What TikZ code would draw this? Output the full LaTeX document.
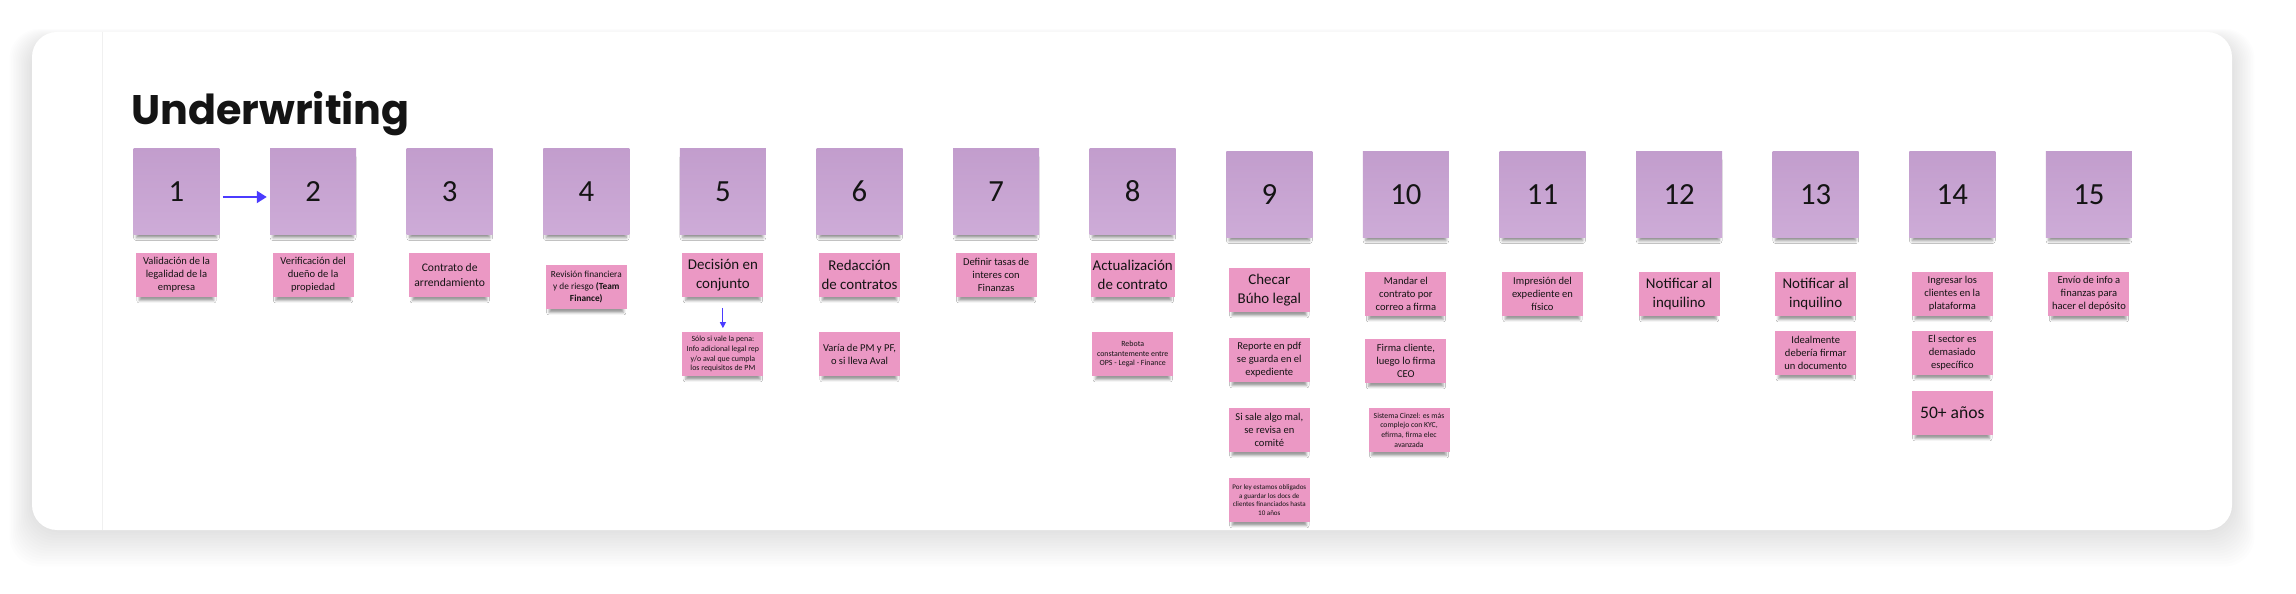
\documentclass[tikz,border=0pt]{standalone}
\usepackage{fontspec}
\setmainfont{Carlito}
\newfontfamily\titlefont{Poppins}
\usetikzlibrary{arrows.meta,shadows.blur}

\definecolor{stickyviolet}{HTML}{C8A2D3}
\definecolor{stickypink}{HTML}{EB98C4}
\definecolor{linkblue}{HTML}{4B3BFF}
\definecolor{inktext}{HTML}{141414}
\definecolor{boardshade}{HTML}{5A6280}

\newcommand{\bignote}{\fontsize{8.5}{11}\selectfont}
\newcommand{\midnote}{\fontsize{6.6}{8.2}\selectfont}
\newcommand{\smallnote}{\fontsize{6}{7.4}\selectfont}
\newcommand{\tinynote}{\fontsize{4.5}{5.6}\selectfont}

\begin{document}
\begin{tikzpicture}[x=0.02cm, y=-0.02cm,
  stepbox/.style={top color=stickyviolet!97!black, bottom color=stickyviolet!90!white, minimum width=1.72cm, minimum height=1.74cm, inner sep=0pt,
    text=inktext, font=\fontsize{17.5}{20}\selectfont,
    blur shadow={shadow xshift=0pt, shadow yshift=-3.5pt, shadow scale=0.93, shadow blur radius=1.8pt, shadow opacity=45}},
  note/.style={fill=stickypink, minimum width=1.62cm, minimum height=0.9cm, inner sep=1pt,
    align=center, text=inktext, font=\smallnote,
    blur shadow={shadow xshift=0pt, shadow yshift=-3pt, shadow scale=0.92, shadow blur radius=1.5pt, shadow opacity=40}},
  link/.style={draw=linkblue, line width=1.1pt, -{Triangle[length=0.2cm, width=0.24cm]}}]

\useasboundingbox (0,0) rectangle (2296,594);
\fill[white] (0,0) rectangle (2296,594);

% board and its soft shadow
\foreach \d in {1,...,14}
  \fill[boardshade, opacity=0.011, rounded corners=0.6cm]
    ({32-\d*1.6},{40-\d*0.8}) rectangle ({2232+\d*1.6},{530+\d*2.6});
\fill[white, rounded corners=0.5cm] (32,32) rectangle (2232,530);
\draw[black!6] (102,32) -- (102,530);

\node[anchor=base west, inner sep=0pt, text=inktext,
  font=\titlefont\bfseries\fontsize{23.5}{28}\selectfont] (title) at (131,125) {Underwriting};

% numbered steps
\foreach \i in {1,...,8}
  \node[stepbox] (\i) at ({176.5+(\i-1)*136.6},191.5) {\i};
\foreach \i in {9,...,15}
  \node[stepbox] (\i) at ({176.5+(\i-1)*136.6},194.5) {\i};

% first row of notes
\node[note] (n1) at (176.5,275) {Validación de la\\legalidad de la\\empresa};
\node[note] (n2) at (313.1,275) {Verificación del\\dueño de la\\propiedad};
\node[note, font=\midnote] (n3) at (449.7,275) {Contrato de\\arrendamiento};
\node[note, font=\fontsize{5.3}{6.9}\selectfont] (n4) at (586.3,287) {Revisión financiera\\y de riesgo \textbf{(Team}\\\textbf{Finance)}};
\node[note, font=\bignote] (n5) at (722.9,275) {Decisión en\\conjunto};
\node[note, font=\bignote] (n6) at (859.5,275) {Redacción\\de contratos};
\node[note] (n7) at (996.1,275) {Definir tasas de\\interes con\\Finanzas};
\node[note, font=\bignote] (n8) at (1132.7,275) {Actualización\\de contrato};
\node[note, font=\bignote] (n9) at (1269.3,290) {Checar\\Búho legal};
\node[note] (n10) at (1405.9,294) {Mandar el\\contrato por\\correo a firma};
\node[note] (n11) at (1542.5,294) {Impresión del\\expediente en\\físico};
\node[note, font=\bignote] (n12) at (1679.1,294) {Notificar al\\inquilino};
\node[note, font=\bignote] (n13) at (1815.7,294) {Notificar al\\inquilino};
\node[note] (n14) at (1952.3,294) {Ingresar los\\clientes en la\\plataforma};
\node[note] (n15) at (2088.9,294) {Envío de info a\\finanzas para\\hacer el depósito};

% second row
\node[note, font=\tinynote] (n5b) at (722.9,354) {Sólo si vale la pena:\\Info adicional legal rep\\y/o aval que cumpla\\los requisitos de PM};
\node[note] (n6b) at (859.5,354) {Varía de PM y PF,\\o si lleva Aval};
\node[note, font=\tinynote] (n8b) at (1132.7,354) {Rebota\\constantemente entre\\OPS - Legal - Finance};
\node[note] (n9b) at (1269.3,360) {Reporte en pdf\\se guarda en el\\expediente};
\node[note] (n10b) at (1405.9,361) {Firma cliente,\\luego lo firma\\CEO};
\node[note] (n13b) at (1815.7,353) {Idealmente\\debería firmar\\un documento};
\node[note] (n14b) at (1952.3,353) {El sector es\\demasiado\\específico};

% third and fourth rows
\node[note] (n9c) at (1269.3,430) {Si sale algo mal,\\se revisa en\\comité};
\node[note, font=\fontsize{4.4}{5.5}\selectfont] (n10c) at (1409,430) {Sistema Cinzel: es más\\complejo con KYC,\\efirma, firma elec\\avanzada};
\node[note, font=\fontsize{10}{12}\selectfont] (n14c) at (1952.3,413) {50+ años};
\node[note, font=\fontsize{4}{4.8}\selectfont] (n9d) at (1269.3,500) {Por ley estamos obligados\\a guardar los docs de\\clientes financiados hasta\\10 años};

\draw[link, shorten <=0.06cm, shorten >=0.06cm] ([yshift=-0.11cm]1.east) -- ([yshift=-0.11cm]2.west);
\draw[link, line width=0.6pt, -{Triangle[length=0.12cm, width=0.12cm]}, shorten <=0.2cm, shorten >=0.06cm] (n5) -- (n5b);
\end{tikzpicture}
\end{document}
